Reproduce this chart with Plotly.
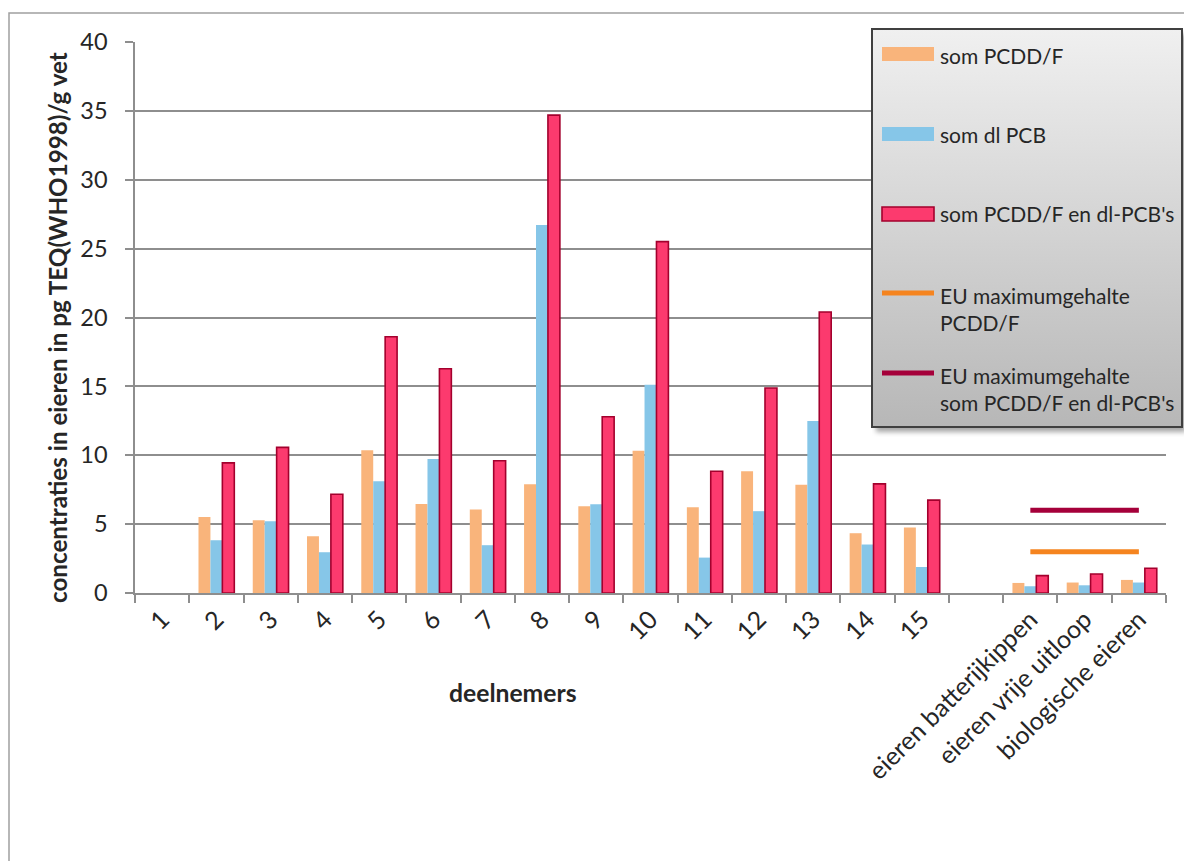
import base64
import plotly.graph_objects as go

# ---- data -------------------------------------------------------------
categories = ["1", "2", "3", "4", "5", "6", "7", "8", "9", "10", "11", "12",
              "13", "14", "15", " ", "eieren batterijkippen",
              "eieren vrije uitloop", "biologische eieren"]

som_pcdd_f = [None, 5.52, 5.28, 4.12, 10.37, 6.47, 6.06, 7.90, 6.30, 10.32,
              6.23, 8.84, 7.85, 4.34, 4.75, None, 0.73, 0.76, 0.95]
som_dl_pcb = [None, 3.83, 5.20, 2.96, 8.12, 9.72, 3.47, 26.72, 6.45, 15.12,
              2.57, 5.94, 12.48, 3.52, 1.89, None, 0.49, 0.56, 0.76]
som_totaal = [None, 9.45, 10.57, 7.17, 18.60, 16.28, 9.60, 34.69, 12.79, 25.51,
              8.84, 14.88, 20.40, 7.92, 6.74, None, 1.26, 1.38, 1.80]

egg_categories = ["eieren batterijkippen", "eieren vrije uitloop", "biologische eieren"]
eu_max_pcdd_f = [3, 3, 3]
eu_max_totaal = [6, 6, 6]

y_ticks = [0, 5, 10, 15, 20, 25, 30, 35, 40]

# ---- styling ----------------------------------------------------------
FONT = "Lato"
TXT = "#262626"
C_ORANGE = "#F9B47B"
C_BLUE = "#86C6E8"
C_RED = "#FC3A6E"
C_RED_EDGE = "#A3002D"
C_LINE_ORANGE = "#F5841F"
C_LINE_RED = "#A5003A"
GRID = "#8E8E8E"

W_PX, H_PX = 1184, 861
L, R, T, B = 135, 1166, 42, 593          # plot area in pixels
PW, PH = R - L, B - T


def px(xp):
    return (xp - L) / PW


def py(yp):
    return (B - yp) / PH


fig = go.Figure()

fig.add_trace(go.Bar(x=categories, y=som_pcdd_f, name="som PCDD/F",
                     marker=dict(color=C_ORANGE, line=dict(width=0))))
fig.add_trace(go.Bar(x=categories, y=som_dl_pcb, name="som dl PCB",
                     marker=dict(color=C_BLUE, line=dict(width=0))))
fig.add_trace(go.Bar(x=categories, y=som_totaal, name="som PCDD/F en dl-PCB's",
                     marker=dict(color=C_RED, line=dict(color=C_RED_EDGE, width=1.6))))
fig.add_trace(go.Scatter(x=egg_categories, y=eu_max_pcdd_f, mode="lines",
                         name="EU maximumgehalte PCDD/F",
                         line=dict(color=C_LINE_ORANGE, width=5)))
fig.add_trace(go.Scatter(x=egg_categories, y=eu_max_totaal, mode="lines",
                         name="EU maximumgehalte som PCDD/F en dl-PCB's",
                         line=dict(color=C_LINE_RED, width=5)))

fig.update_layout(
    width=W_PX, height=H_PX, autosize=False,
    margin=dict(l=L, r=W_PX - R, t=T, b=H_PX - B, pad=0),
    paper_bgcolor="white", plot_bgcolor="white",
    showlegend=False,
    barmode="group", bargap=0.34, bargroupgap=0,
    font=dict(family=FONT, color=TXT, size=21),
)

fig.update_xaxes(
    type="category", categoryorder="array", categoryarray=categories,
    range=[-0.5, len(categories) - 0.5],
    tickson="boundaries", ticks="outside", ticklen=8, tickwidth=1.5,
    tickcolor=GRID, showline=True, linecolor=GRID, linewidth=2,
    tickangle=-45, tickfont=dict(family=FONT, size=25, color=TXT),
    showgrid=False, zeroline=False,
)
fig.update_yaxes(
    range=[0, 40], tickvals=y_ticks, ticks="outside", ticklen=8,
    tickwidth=1.5, tickcolor=GRID, showline=True, linecolor=GRID, linewidth=1.5,
    showgrid=True, gridcolor=GRID, gridwidth=1.5, zeroline=False,
    ticklabelstandoff=13,
    tickfont=dict(family=FONT, size=23.5, color=TXT),
)

# axis titles
fig.add_annotation(xref="paper", yref="paper", x=px(57), y=py(328),
                   text="<b>concentraties in eieren in pg TEQ(WHO1998)/g vet</b>",
                   textangle=-90, showarrow=False, xanchor="center", yanchor="middle",
                   font=dict(family=FONT, size=24.2, color=TXT))
fig.add_annotation(xref="paper", yref="paper", x=px(513), y=py(692),
                   text="<b>deelnemers</b>", showarrow=False,
                   xanchor="center", yanchor="middle",
                   font=dict(family=FONT, size=24.7, color=TXT))

shapes = []
# outer chart frame
shapes.append(dict(type="rect", xref="paper", yref="paper",
                   x0=px(9), x1=px(1200), y0=py(880), y1=py(13),
                   line=dict(color="#A0A0A0", width=1.5), fillcolor="rgba(0,0,0,0)",
                   layer="below"))

# legend box: soft shadow + vertical gray gradient, drawn as one SVG image
LX0, LX1, LY0, LY1 = 872, 1182, 29, 427
BW, BH = LX1 - LX0, LY1 - LY0
PADX, PADY = 10, 10
legend_svg = (
    f'<svg xmlns="http://www.w3.org/2000/svg" width="{BW + PADX}" height="{BH + PADY}" '
    f'viewBox="0 0 {BW + PADX} {BH + PADY}">'
    '<defs><linearGradient id="g" x1="0" y1="0" x2="0" y2="1">'
    '<stop offset="0" stop-color="#F0F0F0"/><stop offset="1" stop-color="#B7B7B7"/>'
    '</linearGradient>'
    '<filter id="s" x="-10%" y="-10%" width="120%" height="120%">'
    '<feGaussianBlur stdDeviation="2.5"/></filter></defs>'
    f'<rect x="4" y="5" width="{BW}" height="{BH}" fill="#000" fill-opacity="0.35" filter="url(#s)"/>'
    f'<rect x="0" y="0" width="{BW}" height="{BH}" fill="url(#g)"/></svg>'
)
legend_uri = "data:image/svg+xml;base64," + base64.b64encode(legend_svg.encode()).decode()
fig.add_layout_image(dict(source=legend_uri, xref="paper", yref="paper",
                          x=px(LX0), y=py(LY0), sizex=(BW + PADX) / PW,
                          sizey=(BH + PADY) / PH, xanchor="left", yanchor="top",
                          sizing="stretch", layer="above"))
shapes.append(dict(type="rect", xref="paper", yref="paper",
                   x0=px(LX0), x1=px(LX1), y0=py(LY1), y1=py(LY0),
                   line=dict(color="#404040", width=2), fillcolor="rgba(0,0,0,0)",
                   layer="above"))

# legend swatches
SW0, SW1 = 882, 934
shapes.append(dict(type="rect", xref="paper", yref="paper", x0=px(SW0), x1=px(SW1),
                   y0=py(61), y1=py(47), fillcolor=C_ORANGE, line=dict(width=0)))
shapes.append(dict(type="rect", xref="paper", yref="paper", x0=px(SW0), x1=px(SW1),
                   y0=py(141), y1=py(127), fillcolor=C_BLUE, line=dict(width=0)))
shapes.append(dict(type="rect", xref="paper", yref="paper", x0=px(SW0), x1=px(SW1),
                   y0=py(221), y1=py(207), fillcolor=C_RED,
                   line=dict(color=C_RED_EDGE, width=1.6)))
shapes.append(dict(type="line", xref="paper", yref="paper", x0=px(882), x1=px(934),
                   y0=py(293), y1=py(293), line=dict(color=C_LINE_ORANGE, width=5)))
shapes.append(dict(type="line", xref="paper", yref="paper", x0=px(882), x1=px(934),
                   y0=py(373), y1=py(373), line=dict(color=C_LINE_RED, width=5)))
fig.update_layout(shapes=shapes)

legend_texts = [
    ("som PCDD/F", 55),
    ("som dl PCB", 134),
    ("som PCDD/F en dl-PCB's", 214),
    ("EU maximumgehalte<br>PCDD/F", 309),
    ("EU maximumgehalte<br>som PCDD/F en dl-PCB's", 389),
]
for txt, yc in legend_texts:
    fig.add_annotation(xref="paper", yref="paper", x=px(938), y=py(yc), text=txt,
                       showarrow=False, xanchor="left", yanchor="middle", align="left",
                       font=dict(family=FONT, size=21, color=TXT))

fig.write_html("out.html")
